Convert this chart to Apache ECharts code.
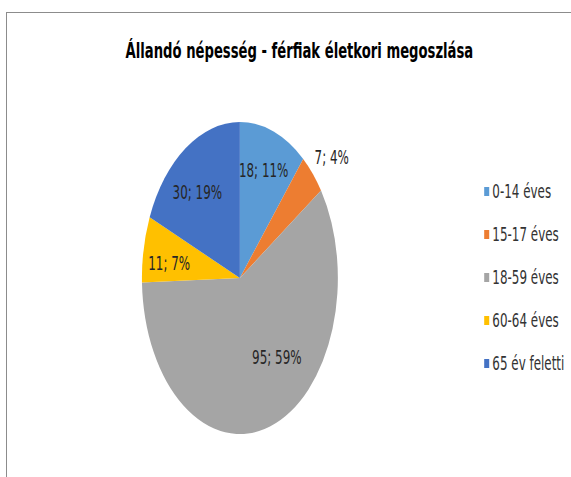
<!DOCTYPE html>
<html>
<head>
<meta charset="utf-8">
<script src="https://cdn.jsdelivr.net/npm/echarts@6/dist/echarts.min.js"></script>
<style>
  html, body { margin: 0; padding: 0; background: #fff; overflow: hidden; }
  #frame { position: absolute; left: 6px; top: 12px; width: 600px; height: 500px;
           border-left: 1px solid #8c8c8c; border-top: 1px solid #8c8c8c; }
  /* the reference is squeezed sideways, pie and text alike */
  #chart { position: absolute; left: 0; top: 0; width: 909px; height: 477px;
           transform: scaleX(0.628); transform-origin: 0 0; }
</style>
</head>
<body>
<div id="frame"></div>
<div id="chart"></div>
<script>
var titleText = 'Állandó népesség - férfiak életkori megoszlása';
var categories = ['0-14 éves', '15-17 éves', '18-59 éves', '60-64 éves', '65 év feletti'];
var values = [18, 7, 95, 11, 30];
var colors = ['#5B9BD5', '#ED7D31', '#A5A5A5', '#FFC000', '#4472C4'];

// label nudges (Excel "best fit" placement), unscaled px
var nudge = [[10, -32], [86, -66], [34, 2], [-33, 0], [-23, -18]];

var chart = echarts.init(document.getElementById('chart'), null, {renderer: 'svg'});

var pieData = [];
for (var i = 0; i < categories.length; i++) {
    pieData.push({name: categories[i], value: values[i]});
}

var option = {
    animation: false,
    color: colors,
    title: {
        text: titleText,
        left: 195,
        top: 35,
        textStyle: {
            fontFamily: 'DejaVu Sans',
            fontSize: 21,
            fontWeight: 'bold',
            color: '#000'
        }
    },
    legend: {
        orient: 'vertical',
        left: 766,
        top: 177,
        itemGap: 24,
        itemWidth: 8,
        itemHeight: 9,
        icon: 'rect',
        textStyle: {
            fontFamily: 'DejaVu Sans',
            fontSize: 19,
            color: '#333'
        },
        data: categories
    },
    series: [{
        type: 'pie',
        center: [382, 278],
        radius: 156,
        startAngle: 90,
        clockwise: true,
        percentPrecision: 0,
        data: pieData,
        itemStyle: {borderWidth: 0},
        label: {
            show: true,
            position: 'inside',
            formatter: '{c}; {d}%',
            fontFamily: 'DejaVu Sans',
            fontSize: 19,
            color: '#262626'
        },
        labelLine: {show: false},
        labelLayout: function (params) {
            var n = nudge[params.dataIndex];
            return {dx: n[0], dy: n[1]};
        },
        emphasis: {disabled: true}
    }]
};
chart.setOption(option);
</script>
</body>
</html>
